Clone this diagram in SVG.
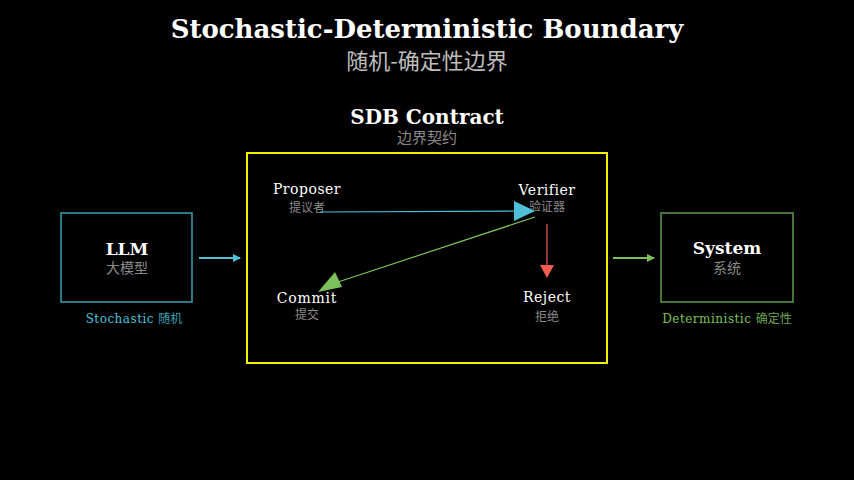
<svg xmlns="http://www.w3.org/2000/svg" width="854" height="480" viewBox="0 0 854 480">
<style>
.s{font-family:"DejaVu Serif","Liberation Serif","Noto Sans CJK SC",serif}
.c{font-family:"Noto Sans CJK SC","DejaVu Sans",sans-serif}
.w{fill:#fff}.g{fill:#8a8a8a}
</style>
<defs>
<marker id="ab" markerWidth="8" markerHeight="8" refX="7" refY="4" orient="auto" markerUnits="userSpaceOnUse"><path d="M0,0L8,4L0,8z" fill="#4fc0d8"/></marker>
<marker id="ag" markerWidth="8" markerHeight="8" refX="7" refY="4" orient="auto" markerUnits="userSpaceOnUse"><path d="M0,0L8,4L0,8z" fill="#7cc05c"/></marker>
</defs>
<rect width="854" height="480" fill="#000"/>
<text x="427" y="38" text-anchor="middle" class="s w" font-size="26" font-weight="bold">Stochastic-Deterministic Boundary</text>
<text x="427" y="69" text-anchor="middle" class="c" fill="#bdbdbd" font-size="22">随机-确定性边界</text>
<g id="contract">
<text x="427" y="124" text-anchor="middle" class="s w" font-size="20" font-weight="bold">SDB Contract</text>
<text x="427" y="143" text-anchor="middle" class="c g" font-size="15">边界契约</text>
<rect x="247" y="153" width="360" height="210" fill="none" stroke="#f0f000" stroke-width="2"/>
</g>
<g id="llm">
<rect x="61" y="213" width="131" height="89" fill="none" stroke="#3aa0b4" stroke-width="1.5"/>
<text x="127" y="255" text-anchor="middle" class="s w" font-size="17" font-weight="bold">LLM</text>
<text x="127" y="273" text-anchor="middle" class="c g" font-size="14">大模型</text>
<text x="134" y="323" text-anchor="middle" class="s" fill="#4fc0d8" font-size="12" letter-spacing="0.5">Stochastic <tspan class="c" fill="#3a9fb0" letter-spacing="0">随机</tspan></text>
</g>
<g id="system">
<rect x="661" y="213" width="132" height="89" fill="none" stroke="#5f9a4c" stroke-width="1.5"/>
<text x="727" y="254" text-anchor="middle" class="s w" font-size="17" font-weight="bold">System</text>
<text x="727" y="273" text-anchor="middle" class="c g" font-size="14">系统</text>
<text x="727" y="323" text-anchor="middle" class="s" fill="#7cc05c" font-size="12" letter-spacing="0.5">Deterministic <tspan class="c" fill="#6aa050" letter-spacing="0">确定性</tspan></text>
</g>
<g id="proposer"><text x="307" y="194" text-anchor="middle" class="s w" font-size="14" letter-spacing="0.5">Proposer</text><text x="307" y="212" text-anchor="middle" class="c g" font-size="12">提议者</text></g>
<g id="verifier"><text x="547" y="195" text-anchor="middle" class="s w" font-size="14" letter-spacing="0.5">Verifier</text><text x="547" y="211" text-anchor="middle" class="c g" font-size="12">验证器</text></g>
<g id="commit"><text x="307" y="303" text-anchor="middle" class="s w" font-size="14" letter-spacing="0.8">Commit</text><text x="307" y="319" text-anchor="middle" class="c g" font-size="12">提交</text></g>
<g id="reject"><text x="547" y="302" text-anchor="middle" class="s w" font-size="14" letter-spacing="0.5">Reject</text><text x="547" y="321" text-anchor="middle" class="c g" font-size="12">拒绝</text></g>
<g id="connectors">
<line x1="199" y1="258" x2="240" y2="258" stroke="#4fc0d8" stroke-width="2" marker-end="url(#ab)"/>
<line x1="613" y1="258" x2="654" y2="258" stroke="#7cc05c" stroke-width="2" marker-end="url(#ag)"/>
<line x1="320" y1="212" x2="516" y2="211" stroke="#4fc0d8" stroke-width="1.2"/>
<path d="M514,201L535,211L514,221z" fill="#4fc0d8"/>
<line x1="535" y1="217" x2="338" y2="282" stroke="#7cc05c" stroke-width="1.2"/>
<path d="M318,292L335,272L342,287z" fill="#7cc05c"/>
<line x1="547" y1="224" x2="547" y2="266" stroke="#c04a44" stroke-width="1.5"/>
<path d="M540,265L554,265L547,278z" fill="#f25c50"/>
</g>
</svg>
